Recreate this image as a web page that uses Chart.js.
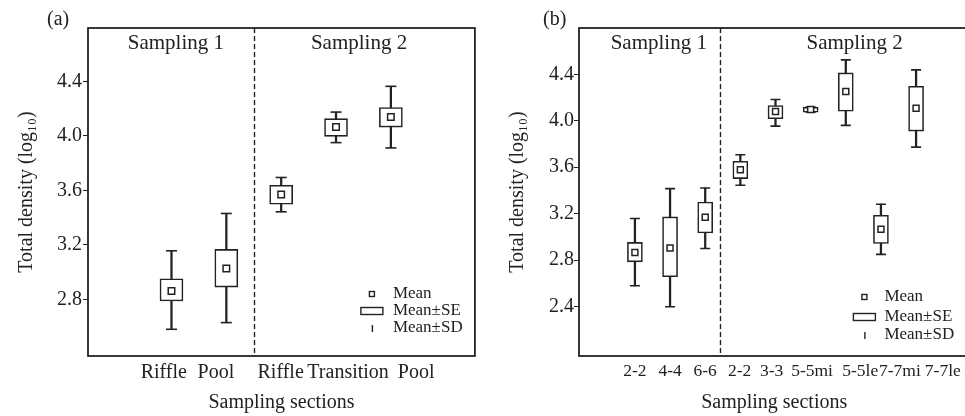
<!DOCTYPE html>
<html>
<head>
<meta charset="utf-8">
<script src="https://cdn.jsdelivr.net/npm/chart.js@4.4.0/dist/chart.umd.min.js"></script>
<style>
  html, body { margin: 0; padding: 0; background: #fff; width: 965px; height: 416px; overflow: hidden; }
  .panel { position: absolute; top: 0; height: 416px; }
  #pa { left: 0; width: 482px; }
  #pb { left: 482px; width: 494px; }
</style>
</head>
<body>
<div class="panel" id="pa"><canvas id="chartA"></canvas></div>
<div class="panel" id="pb"><canvas id="chartB"></canvas></div>
<script>
// panel (a) - by habitat
const catsA = ['Riffle', 'Pool', 'Riffle', 'Transition', 'Pool'];
const meanA = [2.861, 3.027, 3.569, 4.064, 4.138];
const seLoA = [2.788, 2.890, 3.498, 3.996, 4.064];
const seHiA = [2.951, 3.166, 3.637, 4.126, 4.207];
const sdLoA = [2.580, 2.629, 3.442, 3.950, 3.911];
const sdHiA = [3.156, 3.430, 3.694, 4.174, 4.363];
const labelPosA = [0.86, 1.81, 2.99, 4.22, 5.46];
const yTicksA = [2.8, 3.2, 3.6, 4.0, 4.4];

// panel (b) - by section
const catsB = ['2-2', '4-4', '6-6', '2-2', '3-3', '5-5mi', '5-5le', '7-7mi', '7-7le'];
const meanB = [2.867, 2.906, 3.170, 3.579, 4.080, 4.097, 4.252, 3.067, 4.108];
const seLoB = [2.786, 2.658, 3.035, 3.502, 4.017, 4.074, 4.082, 2.944, 3.911];
const seHiB = [2.953, 3.173, 3.301, 3.651, 4.131, 4.117, 4.412, 3.187, 4.297];
const sdLoB = [2.580, 2.400, 2.901, 3.445, 3.954, 4.074, 3.960, 2.850, 3.773];
const sdHiB = [3.159, 3.416, 3.422, 3.708, 4.183, 4.117, 4.524, 3.282, 4.438];
const labelPosB = [1.0, 2.0, 3.0, 3.98, 4.89, 6.04, 7.41, 8.54, 9.76];
const yTicksB = [2.4, 2.8, 3.2, 3.6, 4.0, 4.4];

const sections = ['Sampling 1', 'Sampling 2'];
const legendItems = ['Mean', 'Mean\u00b1SE', 'Mean\u00b1SD'];

const ink = '#222';
const serif = '"Liberation Serif", "Times New Roman", serif';
Chart.defaults.font.family = serif;
Chart.defaults.color = ink;

const decor = {
  id: 'decor',
  afterDraw(chart, args, o) {
    const { ctx, chartArea: a, scales: { x } } = chart;
    ctx.save();
    // frame
    ctx.strokeStyle = ink;
    ctx.lineWidth = 1.8;
    ctx.strokeRect(a.left, a.top, a.right - a.left, a.bottom - a.top);
    // sampling divider
    const dx = Math.round(x.getPixelForValue(o.divider)) + 0.5;
    ctx.lineWidth = 1.4;
    ctx.setLineDash([5, 3]);
    ctx.beginPath();
    ctx.moveTo(dx, a.top);
    ctx.lineTo(dx, a.bottom);
    ctx.stroke();
    ctx.setLineDash([]);

    ctx.fillStyle = ink;
    ctx.textBaseline = 'middle';
    ctx.font = '21px ' + serif;
    ctx.textAlign = 'center';
    sections.forEach((s, i) => ctx.fillText(s, x.getPixelForValue(o.sectionPos[i]), a.top + 15));
    ctx.textAlign = 'left';
    ctx.font = '20px ' + serif;
    ctx.fillText(o.letter, o.letterX, 20);

    // legend
    const L = o.legend;
    const mx = a.right - L.marker;
    const tx = a.right - L.text;
    ctx.font = '17px ' + serif;
    ctx.lineWidth = 1.4;
    legendItems.forEach((t, i) => {
      const ly = a.bottom - L.rows[i];
      ctx.fillText(t, tx, ly);
      if (i === 0) ctx.strokeRect(mx - 2.5, ly - 2.5, 5, 5);
      if (i === 1) ctx.strokeRect(mx - 11, ly - 3.5, 22, 7);
      if (i === 2) {
        ctx.beginPath();
        ctx.moveTo(mx + 0.5, ly - 3);
        ctx.lineTo(mx + 0.5, ly + 4);
        ctx.stroke();
      }
    });
    ctx.restore();
  }
};

function makeChart(id, p) {
  const xs = p.cats.map((c, i) => i + 1);
  return new Chart(document.getElementById(id), {
    type: 'scatter',
    data: {
      datasets: [
        {
          type: 'bar',
          data: xs.map((v, i) => ({ x: v, y: [p.sdLo[i], p.sdHi[i]] })),
          backgroundColor: ink,
          barThickness: 1.6,
          grouped: false,
          order: 4
        },
        {
          type: 'bar',
          data: xs.map((v, i) => ({ x: v, y: [p.seLo[i], p.seHi[i]] })),
          backgroundColor: '#fff',
          borderColor: ink,
          borderWidth: 1.6,
          borderSkipped: false,
          barThickness: p.boxW,
          grouped: false,
          order: 3
        },
        {
          data: xs.flatMap((v, i) => [{ x: v, y: p.sdLo[i] }, { x: v, y: p.sdHi[i] }]),
          pointStyle: 'line',
          radius: p.capR,
          borderColor: ink,
          borderWidth: 1.6,
          order: 2
        },
        {
          data: xs.map((v, i) => ({ x: v, y: p.mean[i] })),
          pointStyle: 'rect',
          radius: p.meanR,
          backgroundColor: '#fff',
          borderColor: ink,
          borderWidth: 1.5,
          order: 1
        }
      ]
    },
    options: {
      responsive: true, maintainAspectRatio: false,
      animation: false,
      layout: { padding: { left: 0, top: 28, right: 6, bottom: 0 } },
      plugins: {
        legend: { display: false },
        tooltip: { enabled: false },
        decor: p.decor
      },
      scales: {
        x: {
          type: 'linear', min: p.xMin, max: p.xMax,
          offset: false,
          grid: { display: false, drawTicks: false, offset: false },
          border: { display: false },
          afterFit: s => { s.height = 60; },
          afterBuildTicks: s => { s.ticks = p.labelPos.map(v => ({ value: v })); },
          ticks: {
            autoSkip: false, maxRotation: 0, padding: 5,
            font: { size: p.xFont },
            color: ink,
            callback: (v, i) => p.cats[i]
          },
          title: {
            display: true, text: 'Sampling sections',
            font: { size: 20 }, color: ink,
            padding: { top: 0, bottom: 1 }
          }
        },
        y: {
          min: p.yMin, max: p.yMax,
          grid: { display: true, drawOnChartArea: false, drawTicks: true, tickLength: 5, color: ink },
          border: { display: false },
          afterFit: s => { s.width = p.yW; },
          afterBuildTicks: s => { s.ticks = p.yTicks.map(v => ({ value: v })); },
          ticks: {
            padding: p.yPad, font: { size: 20 }, color: ink,
            callback: v => v.toFixed(1)
          },
          title: {
            display: true, text: 'Total density (log\u2081\u2080)',
            font: { size: 20 }, color: ink,
            padding: { top: p.titlePad, bottom: 0 }
          }
        }
      }
    },
    plugins: [decor]
  });
}

makeChart('chartA', {
  cats: catsA, mean: meanA, seLo: seLoA, seHi: seHiA, sdLo: sdLoA, sdHi: sdHiA,
  labelPos: labelPosA, yTicks: yTicksA,
  xMin: -0.522, xMax: 6.532, yMin: 2.384, yMax: 4.791,
  boxW: 23, capR: 5.5, meanR: 4.6, xFont: 20, yW: 88, yPad: 1, titlePad: 15,
  decor: {
    divider: 2.5, sectionPos: [1.08, 4.42], letter: '(a)', letterX: 47,
    legend: { marker: 103, text: 82, rows: [62, 45, 28] }
  }
});

makeChart('chartB', {
  cats: catsB, mean: meanB, seLo: seLoB, seHi: seHiB, sdLo: sdLoB, sdHi: sdHiB,
  labelPos: labelPosB, yTicks: yTicksB,
  xMin: -0.591, xMax: 10.517, yMin: 1.976, yMax: 4.798,
  boxW: 15, capR: 5, meanR: 4.2, xFont: 17.5, yW: 97, yPad: 0, titlePad: 24,
  decor: {
    divider: 3.43, sectionPos: [1.68, 7.25], letter: '(b)', letterX: 61,
    legend: { marker: 105, text: 85, rows: [59, 39, 21] }
  }
});
</script>
</body>
</html>
